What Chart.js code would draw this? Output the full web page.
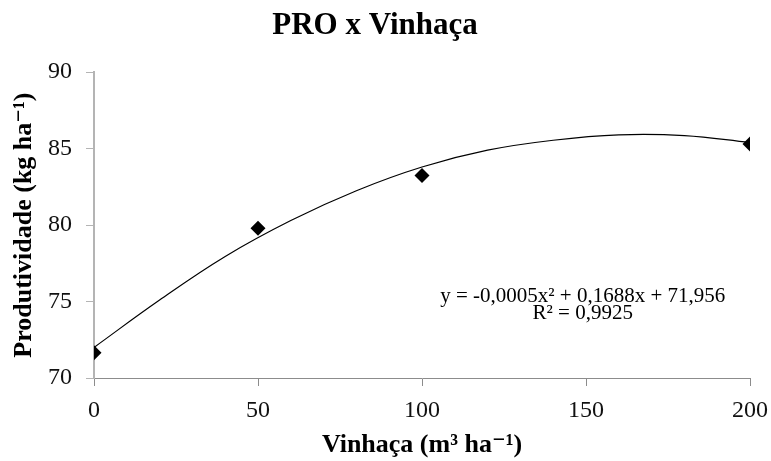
<!DOCTYPE html>
<html>
<head>
<meta charset="utf-8">
<title>PRO x Vinhaça</title>
<script src="https://cdn.jsdelivr.net/npm/chart.js@4.4.1/dist/chart.umd.min.js"></script>
<style>
  html, body { margin: 0; padding: 0; background: #fff; }
  canvas { display: block; }
</style>
</head>
<body>
<canvas id="proChart" width="771" height="461"></canvas>
<script>
// observed points
let doses = [0, 50, 100, 200];
let produtividade = [71.65, 79.8, 83.25, 85.3];

// trend curve
let trendDoses = [0, 20, 40, 60, 80, 100, 120, 140, 160, 180, 200];
let trendValues = [72.0, 75.1, 77.95, 80.3, 82.25, 83.8, 84.9, 85.55, 85.9, 85.85, 85.4];

let xTicks = [0, 50, 100, 150, 200];
let yTicks = [70, 75, 80, 85, 90];

let equationLines = ['y = -0,0005x² + 0,1688x + 71,956', 'R² = 0,9925'];

const serif = "'Liberation Serif', 'DejaVu Serif', serif";

// equation text drawn on the plot area
const equationLabel = {
    id: 'equationLabel',
    afterDatasetsDraw(chart) {
        const ctx = chart.ctx;
        const x = chart.scales.x.getPixelForValue(149);
        const y1 = chart.scales.y.getPixelForValue(75.36);
        const y2 = chart.scales.y.getPixelForValue(74.25);
        ctx.save();
        ctx.fillStyle = '#000';
        ctx.font = "21px " + serif;
        ctx.textAlign = 'center';
        ctx.textBaseline = 'middle';
        ctx.fillText(equationLines[0], x, y1);
        ctx.fillText(equationLines[1], x, y2);
        ctx.restore();
    }
};

let proChart = document.getElementById('proChart');

new Chart(proChart, {
    type: 'scatter',
    data: {
        datasets: [{
            label: 'Tendência',
            data: trendDoses.map((d, i) => ({ x: d, y: trendValues[i] })),
            showLine: true,
            borderColor: '#000',
            borderWidth: 1.2,
            pointRadius: 0,
            tension: 0.4,
            fill: false
        }, {
            label: 'PRO',
            data: doses.map((d, i) => ({ x: d, y: produtividade[i] })),
            pointStyle: 'rectRot',
            pointRadius: 7.5,
            backgroundColor: '#000',
            borderColor: '#000',
            borderWidth: 0
        }]
    },
    options: {
        responsive: false,
        animation: false,
        layout: {
            padding: { left: 0, right: 21, top: 0, bottom: 0 }
        },
        plugins: {
            legend: { display: false },
            tooltip: { enabled: false },
            title: {
                display: true,
                text: 'PRO x Vinhaça',
                color: '#000',
                font: { family: serif, size: 31, weight: 'bold' },
                padding: { top: 7, bottom: 28 }
            }
        },
        scales: {
            x: {
                type: 'linear',
                min: 0,
                max: 200,
                afterBuildTicks: (scale) => { scale.ticks = xTicks.map(v => ({ value: v })); },
                afterFit: (scale) => {
                    scale.height = 83;
                    scale.paddingLeft = 0;
                    scale.paddingRight = 0;
                },
                ticks: {
                    color: '#111',
                    font: { family: serif, size: 24 },
                    padding: 10,
                    maxRotation: 0
                },
                grid: {
                    drawOnChartArea: false,
                    drawTicks: true,
                    tickLength: 8,
                    color: '#8c8c8c'
                },
                border: { color: '#8c8c8c', width: 1 },
                title: {
                    display: true,
                    text: 'Vinhaça (m³ ha⁻¹)',
                    color: '#000',
                    font: { family: serif, size: 26, weight: 'bold' },
                    padding: { top: 0, bottom: 0 }
                }
            },
            y: {
                type: 'linear',
                min: 70,
                max: 90,
                afterBuildTicks: (scale) => { scale.ticks = yTicks.map(v => ({ value: v })); },
                afterFit: (scale) => {
                    scale.width = 94;
                    scale.paddingTop = 0;
                    scale.paddingBottom = 0;
                },
                ticks: {
                    color: '#111',
                    font: { family: serif, size: 24 },
                    padding: 14
                },
                grid: {
                    drawOnChartArea: false,
                    drawTicks: true,
                    tickLength: 8,
                    color: '#b4b4b4'
                },
                border: { color: '#b4b4b4', width: 2 },
                title: {
                    display: true,
                    text: 'Produtividade (kg ha⁻¹)',
                    color: '#000',
                    font: { family: serif, size: 26, weight: 'bold' },
                    padding: { top: 9, bottom: 0 }
                }
            }
        }
    },
    plugins: [equationLabel]
});
</script>
</body>
</html>
